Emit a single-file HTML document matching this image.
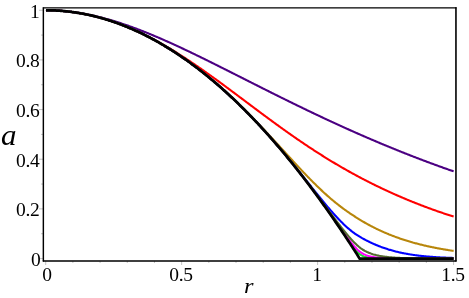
<!DOCTYPE html>
<html><head><meta charset="utf-8"><title>plot</title>
<style>
html,body{margin:0;padding:0;background:#fff;}
body{width:469px;height:298px;position:relative;overflow:hidden;font-family:"Liberation Serif",serif;color:#000;}
div{will-change:transform;}
</style></head><body>
<svg width="469" height="298" viewBox="0 0 469 298" style="position:absolute;left:0;top:0"><rect x="0" y="0" width="469" height="298" fill="#fff"/><path d="M45.70,261 v4 M72.89,261 v2 M100.08,261 v2 M127.27,261 v2 M154.46,261 v2 M181.65,261 v4 M208.84,261 v2 M236.03,261 v2 M263.22,261 v2 M290.41,261 v2 M317.60,261 v4 M344.79,261 v2 M371.98,261 v2 M399.17,261 v2 M426.36,261 v2 M453.55,261 v4 M43,258.55 h-4 M43,233.72 h-2 M43,208.89 h-4 M43,184.06 h-2 M43,159.23 h-4 M43,134.40 h-2 M43,109.57 h-4 M43,84.74 h-2 M43,59.91 h-4 M43,35.08 h-2 M43,10.25 h-4" stroke="#aaa" stroke-width="0.7" fill="none"/><path d="M45.97,10.25 L46.79,10.25 L47.61,10.26 L48.42,10.27 L49.24,10.28 L50.06,10.30 L50.87,10.32 L51.69,10.34 L52.51,10.36 L53.32,10.39 L54.14,10.42 L54.96,10.46 L55.78,10.50 L56.59,10.54 L57.41,10.58 L58.23,10.63 L59.04,10.68 L59.86,10.74 L60.68,10.80 L61.49,10.86 L62.31,10.92 L63.13,10.99 L63.94,11.06 L64.76,11.14 L65.58,11.21 L66.40,11.29 L67.21,11.38 L68.03,11.46 L68.85,11.55 L69.66,11.65 L70.48,11.74 L71.30,11.84 L72.11,11.94 L72.93,12.05 L73.75,12.16 L74.57,12.27 L75.38,12.38 L76.20,12.50 L77.02,12.62 L77.83,12.75 L78.65,12.87 L79.47,13.00 L80.28,13.14 L81.10,13.27 L81.92,13.41 L82.73,13.56 L83.55,13.70 L84.37,13.85 L85.19,14.00 L86.00,14.15 L86.82,14.31 L87.64,14.47 L88.45,14.63 L89.27,14.80 L90.09,14.97 L90.90,15.14 L91.72,15.31 L92.54,15.49 L93.36,15.67 L94.17,15.85 L94.99,16.04 L95.81,16.23 L96.62,16.42 L97.44,16.61 L98.26,16.81 L99.07,17.01 L99.89,17.21 L100.71,17.42 L101.52,17.62 L102.34,17.83 L103.16,18.05 L103.98,18.26 L104.79,18.48 L105.61,18.70 L106.43,18.92 L107.24,19.15 L108.06,19.38 L108.88,19.61 L109.69,19.84 L110.51,20.08 L111.33,20.31 L112.15,20.56 L112.96,20.80 L113.78,21.04 L114.60,21.29 L115.41,21.54 L116.23,21.80 L117.05,22.05 L117.86,22.31 L118.68,22.57 L119.50,22.83 L120.31,23.09 L121.13,23.36 L121.95,23.63 L122.77,23.90 L123.58,24.17 L124.40,24.45 L125.22,24.73 L126.03,25.01 L126.85,25.29 L127.67,25.57 L128.48,25.86 L129.30,26.15 L130.12,26.44 L130.94,26.73 L131.75,27.02 L132.57,27.32 L133.39,27.62 L134.20,27.92 L135.02,28.22 L135.84,28.52 L136.65,28.83 L137.47,29.14 L138.29,29.45 L139.10,29.76 L139.92,30.07 L140.74,30.39 L141.56,30.70 L142.37,31.02 L143.19,31.34 L144.01,31.67 L144.82,31.99 L145.64,32.32 L146.46,32.64 L147.27,32.97 L148.09,33.30 L148.91,33.64 L149.72,33.97 L150.54,34.30 L151.36,34.64 L152.18,34.98 L152.99,35.32 L153.81,35.66 L154.63,36.01 L155.44,36.35 L156.26,36.70 L157.08,37.04 L157.89,37.39 L158.71,37.74 L159.53,38.09 L160.35,38.45 L161.16,38.80 L161.98,39.16 L162.80,39.51 L163.61,39.87 L164.43,40.23 L165.25,40.59 L166.06,40.95 L166.88,41.32 L167.70,41.68 L168.51,42.05 L169.33,42.41 L170.15,42.78 L170.97,43.15 L171.78,43.52 L172.60,43.89 L173.42,44.27 L174.23,44.64 L175.05,45.01 L175.87,45.39 L176.68,45.77 L177.50,46.14 L178.32,46.52 L179.14,46.90 L179.95,47.28 L180.77,47.66 L181.59,48.05 L182.40,48.43 L183.22,48.81 L184.04,49.20 L184.85,49.58 L185.67,49.97 L186.49,50.36 L187.30,50.75 L188.12,51.13 L188.94,51.52 L189.76,51.92 L190.57,52.31 L191.39,52.70 L192.21,53.09 L193.02,53.49 L193.84,53.88 L194.66,54.27 L195.47,54.67 L196.29,55.07 L197.11,55.46 L197.93,55.86 L198.74,56.26 L199.56,56.66 L200.38,57.06 L201.19,57.46 L202.01,57.86 L202.83,58.26 L203.64,58.66 L204.46,59.06 L205.28,59.46 L206.09,59.87 L206.91,60.27 L207.73,60.67 L208.55,61.08 L209.36,61.48 L210.18,61.89 L211.00,62.29 L211.81,62.70 L212.63,63.10 L213.45,63.51 L214.26,63.92 L215.08,64.32 L215.90,64.73 L216.72,65.14 L217.53,65.55 L218.35,65.96 L219.17,66.37 L219.98,66.78 L220.80,67.19 L221.62,67.59 L222.43,68.00 L223.25,68.41 L224.07,68.83 L224.88,69.24 L225.70,69.65 L226.52,70.06 L227.34,70.47 L228.15,70.88 L228.97,71.29 L229.79,71.70 L230.60,72.12 L231.42,72.53 L232.24,72.94 L233.05,73.35 L233.87,73.76 L234.69,74.18 L235.51,74.59 L236.32,75.00 L237.14,75.41 L237.96,75.83 L238.77,76.24 L239.59,76.65 L240.41,77.06 L241.22,77.48 L242.04,77.89 L242.86,78.30 L243.67,78.72 L244.49,79.13 L245.31,79.54 L246.13,79.95 L246.94,80.37 L247.76,80.78 L248.58,81.19 L249.39,81.60 L250.21,82.02 L251.03,82.43 L251.84,82.84 L252.66,83.25 L253.48,83.67 L254.29,84.08 L255.11,84.49 L255.93,84.90 L256.75,85.31 L257.56,85.72 L258.38,86.14 L259.20,86.55 L260.01,86.96 L260.83,87.37 L261.65,87.78 L262.46,88.19 L263.28,88.60 L264.10,89.01 L264.92,89.42 L265.73,89.83 L266.55,90.24 L267.37,90.65 L268.18,91.06 L269.00,91.47 L269.82,91.88 L270.63,92.28 L271.45,92.69 L272.27,93.10 L273.08,93.51 L273.90,93.91 L274.72,94.32 L275.54,94.73 L276.35,95.14 L277.17,95.54 L277.99,95.95 L278.80,96.35 L279.62,96.76 L280.44,97.16 L281.25,97.57 L282.07,97.97 L282.89,98.38 L283.71,98.78 L284.52,99.18 L285.34,99.59 L286.16,99.99 L286.97,100.39 L287.79,100.80 L288.61,101.20 L289.42,101.60 L290.24,102.00 L291.06,102.40 L291.87,102.80 L292.69,103.20 L293.51,103.60 L294.33,104.00 L295.14,104.40 L295.96,104.80 L296.78,105.19 L297.59,105.59 L298.41,105.99 L299.23,106.39 L300.04,106.78 L300.86,107.18 L301.68,107.57 L302.50,107.97 L303.31,108.36 L304.13,108.76 L304.95,109.15 L305.76,109.55 L306.58,109.94 L307.40,110.33 L308.21,110.72 L309.03,111.11 L309.85,111.51 L310.66,111.90 L311.48,112.29 L312.30,112.68 L313.12,113.07 L313.93,113.45 L314.75,113.84 L315.57,114.23 L316.38,114.62 L317.20,115.01 L318.02,115.39 L318.83,115.78 L319.65,116.16 L320.47,116.55 L321.29,116.93 L322.10,117.32 L322.92,117.70 L323.74,118.08 L324.55,118.47 L325.37,118.85 L326.19,119.23 L327.00,119.61 L327.82,119.99 L328.64,120.37 L329.45,120.75 L330.27,121.13 L331.09,121.51 L331.91,121.88 L332.72,122.26 L333.54,122.64 L334.36,123.01 L335.17,123.39 L335.99,123.77 L336.81,124.14 L337.62,124.51 L338.44,124.89 L339.26,125.26 L340.08,125.63 L340.89,126.00 L341.71,126.38 L342.53,126.75 L343.34,127.12 L344.16,127.49 L344.98,127.85 L345.79,128.22 L346.61,128.59 L347.43,128.96 L348.24,129.32 L349.06,129.69 L349.88,130.06 L350.70,130.42 L351.51,130.79 L352.33,131.15 L353.15,131.51 L353.96,131.88 L354.78,132.24 L355.60,132.60 L356.41,132.96 L357.23,133.32 L358.05,133.68 L358.86,134.04 L359.68,134.40 L360.50,134.76 L361.32,135.11 L362.13,135.47 L362.95,135.83 L363.77,136.18 L364.58,136.54 L365.40,136.89 L366.22,137.24 L367.03,137.60 L367.85,137.95 L368.67,138.30 L369.49,138.65 L370.30,139.00 L371.12,139.35 L371.94,139.70 L372.75,140.05 L373.57,140.40 L374.39,140.75 L375.20,141.09 L376.02,141.44 L376.84,141.79 L377.65,142.13 L378.47,142.48 L379.29,142.82 L380.11,143.16 L380.92,143.51 L381.74,143.85 L382.56,144.19 L383.37,144.53 L384.19,144.87 L385.01,145.21 L385.82,145.55 L386.64,145.89 L387.46,146.22 L388.28,146.56 L389.09,146.90 L389.91,147.23 L390.73,147.57 L391.54,147.90 L392.36,148.23 L393.18,148.57 L393.99,148.90 L394.81,149.23 L395.63,149.56 L396.44,149.89 L397.26,150.22 L398.08,150.55 L398.90,150.88 L399.71,151.21 L400.53,151.54 L401.35,151.86 L402.16,152.19 L402.98,152.51 L403.80,152.84 L404.61,153.16 L405.43,153.48 L406.25,153.81 L407.07,154.13 L407.88,154.45 L408.70,154.77 L409.52,155.09 L410.33,155.41 L411.15,155.73 L411.97,156.05 L412.78,156.36 L413.60,156.68 L414.42,157.00 L415.23,157.31 L416.05,157.63 L416.87,157.94 L417.69,158.25 L418.50,158.57 L419.32,158.88 L420.14,159.19 L420.95,159.50 L421.77,159.81 L422.59,160.12 L423.40,160.43 L424.22,160.74 L425.04,161.05 L425.86,161.35 L426.67,161.66 L427.49,161.96 L428.31,162.27 L429.12,162.57 L429.94,162.88 L430.76,163.18 L431.57,163.48 L432.39,163.78 L433.21,164.08 L434.02,164.38 L434.84,164.68 L435.66,164.98 L436.48,165.28 L437.29,165.58 L438.11,165.87 L438.93,166.17 L439.74,166.46 L440.56,166.76 L441.38,167.05 L442.19,167.35 L443.01,167.64 L443.83,167.93 L444.65,168.22 L445.46,168.51 L446.28,168.80 L447.10,169.09 L447.91,169.38 L448.73,169.67 L449.55,169.95 L450.36,170.24 L451.18,170.53 L452.00,170.81 L452.81,171.10 L453.63,171.38" stroke="#4b0082" stroke-width="2.1" fill="none" stroke-linejoin="miter" stroke-linecap="butt"/><path d="M45.97,10.25 L46.79,10.25 L47.61,10.26 L48.42,10.27 L49.24,10.28 L50.06,10.30 L50.87,10.32 L51.69,10.34 L52.51,10.37 L53.32,10.40 L54.14,10.43 L54.96,10.47 L55.78,10.51 L56.59,10.55 L57.41,10.60 L58.23,10.65 L59.04,10.70 L59.86,10.76 L60.68,10.82 L61.49,10.88 L62.31,10.95 L63.13,11.02 L63.94,11.09 L64.76,11.17 L65.58,11.25 L66.40,11.33 L67.21,11.42 L68.03,11.51 L68.85,11.60 L69.66,11.70 L70.48,11.80 L71.30,11.90 L72.11,12.01 L72.93,12.12 L73.75,12.23 L74.57,12.35 L75.38,12.47 L76.20,12.59 L77.02,12.72 L77.83,12.85 L78.65,12.99 L79.47,13.12 L80.28,13.27 L81.10,13.41 L81.92,13.56 L82.73,13.71 L83.55,13.86 L84.37,14.02 L85.19,14.18 L86.00,14.35 L86.82,14.51 L87.64,14.68 L88.45,14.86 L89.27,15.04 L90.09,15.22 L90.90,15.40 L91.72,15.59 L92.54,15.78 L93.36,15.98 L94.17,16.18 L94.99,16.38 L95.81,16.58 L96.62,16.79 L97.44,17.00 L98.26,17.22 L99.07,17.44 L99.89,17.66 L100.71,17.88 L101.52,18.11 L102.34,18.34 L103.16,18.58 L103.98,18.82 L104.79,19.06 L105.61,19.30 L106.43,19.55 L107.24,19.80 L108.06,20.06 L108.88,20.32 L109.69,20.58 L110.51,20.84 L111.33,21.11 L112.15,21.38 L112.96,21.66 L113.78,21.94 L114.60,22.22 L115.41,22.51 L116.23,22.79 L117.05,23.09 L117.86,23.38 L118.68,23.68 L119.50,23.98 L120.31,24.29 L121.13,24.59 L121.95,24.90 L122.77,25.22 L123.58,25.54 L124.40,25.86 L125.22,26.18 L126.03,26.51 L126.85,26.84 L127.67,27.18 L128.48,27.51 L129.30,27.85 L130.12,28.20 L130.94,28.55 L131.75,28.90 L132.57,29.25 L133.39,29.61 L134.20,29.97 L135.02,30.33 L135.84,30.69 L136.65,31.06 L137.47,31.44 L138.29,31.81 L139.10,32.19 L139.92,32.57 L140.74,32.96 L141.56,33.34 L142.37,33.74 L143.19,34.13 L144.01,34.53 L144.82,34.93 L145.64,35.33 L146.46,35.74 L147.27,36.15 L148.09,36.56 L148.91,36.97 L149.72,37.39 L150.54,37.81 L151.36,38.24 L152.18,38.66 L152.99,39.09 L153.81,39.53 L154.63,39.96 L155.44,40.40 L156.26,40.84 L157.08,41.29 L157.89,41.73 L158.71,42.18 L159.53,42.64 L160.35,43.09 L161.16,43.55 L161.98,44.01 L162.80,44.47 L163.61,44.94 L164.43,45.41 L165.25,45.88 L166.06,46.36 L166.88,46.83 L167.70,47.31 L168.51,47.80 L169.33,48.28 L170.15,48.77 L170.97,49.26 L171.78,49.75 L172.60,50.24 L173.42,50.74 L174.23,51.24 L175.05,51.74 L175.87,52.25 L176.68,52.76 L177.50,53.27 L178.32,53.78 L179.14,54.29 L179.95,54.81 L180.77,55.33 L181.59,55.85 L182.40,56.37 L183.22,56.90 L184.04,57.42 L184.85,57.95 L185.67,58.49 L186.49,59.02 L187.30,59.56 L188.12,60.10 L188.94,60.64 L189.76,61.18 L190.57,61.72 L191.39,62.27 L192.21,62.82 L193.02,63.37 L193.84,63.92 L194.66,64.47 L195.47,65.03 L196.29,65.59 L197.11,66.14 L197.93,66.71 L198.74,67.27 L199.56,67.83 L200.38,68.40 L201.19,68.97 L202.01,69.54 L202.83,70.11 L203.64,70.68 L204.46,71.25 L205.28,71.83 L206.09,72.41 L206.91,72.99 L207.73,73.57 L208.55,74.15 L209.36,74.73 L210.18,75.31 L211.00,75.90 L211.81,76.48 L212.63,77.07 L213.45,77.66 L214.26,78.25 L215.08,78.84 L215.90,79.44 L216.72,80.03 L217.53,80.62 L218.35,81.22 L219.17,81.82 L219.98,82.41 L220.80,83.01 L221.62,83.61 L222.43,84.21 L223.25,84.81 L224.07,85.41 L224.88,86.02 L225.70,86.62 L226.52,87.23 L227.34,87.83 L228.15,88.44 L228.97,89.04 L229.79,89.65 L230.60,90.26 L231.42,90.86 L232.24,91.47 L233.05,92.08 L233.87,92.69 L234.69,93.30 L235.51,93.91 L236.32,94.52 L237.14,95.13 L237.96,95.74 L238.77,96.36 L239.59,96.97 L240.41,97.58 L241.22,98.19 L242.04,98.80 L242.86,99.42 L243.67,100.03 L244.49,100.64 L245.31,101.25 L246.13,101.87 L246.94,102.48 L247.76,103.09 L248.58,103.70 L249.39,104.32 L250.21,104.93 L251.03,105.54 L251.84,106.15 L252.66,106.76 L253.48,107.38 L254.29,107.99 L255.11,108.60 L255.93,109.21 L256.75,109.82 L257.56,110.43 L258.38,111.04 L259.20,111.65 L260.01,112.25 L260.83,112.86 L261.65,113.47 L262.46,114.08 L263.28,114.68 L264.10,115.29 L264.92,115.89 L265.73,116.50 L266.55,117.10 L267.37,117.71 L268.18,118.31 L269.00,118.91 L269.82,119.51 L270.63,120.11 L271.45,120.71 L272.27,121.31 L273.08,121.91 L273.90,122.50 L274.72,123.10 L275.54,123.69 L276.35,124.29 L277.17,124.88 L277.99,125.47 L278.80,126.06 L279.62,126.65 L280.44,127.24 L281.25,127.83 L282.07,128.42 L282.89,129.00 L283.71,129.59 L284.52,130.17 L285.34,130.75 L286.16,131.33 L286.97,131.91 L287.79,132.49 L288.61,133.07 L289.42,133.64 L290.24,134.22 L291.06,134.79 L291.87,135.37 L292.69,135.94 L293.51,136.51 L294.33,137.07 L295.14,137.64 L295.96,138.21 L296.78,138.77 L297.59,139.33 L298.41,139.89 L299.23,140.45 L300.04,141.01 L300.86,141.57 L301.68,142.12 L302.50,142.68 L303.31,143.23 L304.13,143.78 L304.95,144.33 L305.76,144.88 L306.58,145.42 L307.40,145.97 L308.21,146.51 L309.03,147.05 L309.85,147.59 L310.66,148.13 L311.48,148.67 L312.30,149.20 L313.12,149.74 L313.93,150.27 L314.75,150.80 L315.57,151.33 L316.38,151.85 L317.20,152.38 L318.02,152.90 L318.83,153.42 L319.65,153.94 L320.47,154.46 L321.29,154.98 L322.10,155.49 L322.92,156.01 L323.74,156.52 L324.55,157.03 L325.37,157.54 L326.19,158.04 L327.00,158.55 L327.82,159.05 L328.64,159.55 L329.45,160.05 L330.27,160.55 L331.09,161.04 L331.91,161.54 L332.72,162.03 L333.54,162.52 L334.36,163.01 L335.17,163.50 L335.99,163.98 L336.81,164.46 L337.62,164.95 L338.44,165.43 L339.26,165.90 L340.08,166.38 L340.89,166.85 L341.71,167.33 L342.53,167.80 L343.34,168.27 L344.16,168.73 L344.98,169.20 L345.79,169.66 L346.61,170.13 L347.43,170.59 L348.24,171.04 L349.06,171.50 L349.88,171.96 L350.70,172.41 L351.51,172.86 L352.33,173.31 L353.15,173.76 L353.96,174.20 L354.78,174.65 L355.60,175.09 L356.41,175.53 L357.23,175.97 L358.05,176.41 L358.86,176.84 L359.68,177.28 L360.50,177.71 L361.32,178.14 L362.13,178.57 L362.95,179.00 L363.77,179.42 L364.58,179.84 L365.40,180.27 L366.22,180.69 L367.03,181.10 L367.85,181.52 L368.67,181.94 L369.49,182.35 L370.30,182.76 L371.12,183.17 L371.94,183.58 L372.75,183.99 L373.57,184.39 L374.39,184.79 L375.20,185.19 L376.02,185.59 L376.84,185.99 L377.65,186.39 L378.47,186.78 L379.29,187.18 L380.11,187.57 L380.92,187.96 L381.74,188.35 L382.56,188.73 L383.37,189.12 L384.19,189.50 L385.01,189.88 L385.82,190.26 L386.64,190.64 L387.46,191.02 L388.28,191.40 L389.09,191.77 L389.91,192.14 L390.73,192.51 L391.54,192.88 L392.36,193.25 L393.18,193.62 L393.99,193.98 L394.81,194.34 L395.63,194.71 L396.44,195.07 L397.26,195.42 L398.08,195.78 L398.90,196.14 L399.71,196.49 L400.53,196.84 L401.35,197.19 L402.16,197.54 L402.98,197.89 L403.80,198.24 L404.61,198.58 L405.43,198.92 L406.25,199.27 L407.07,199.61 L407.88,199.95 L408.70,200.28 L409.52,200.62 L410.33,200.95 L411.15,201.29 L411.97,201.62 L412.78,201.95 L413.60,202.28 L414.42,202.60 L415.23,202.93 L416.05,203.25 L416.87,203.57 L417.69,203.90 L418.50,204.22 L419.32,204.53 L420.14,204.85 L420.95,205.17 L421.77,205.48 L422.59,205.79 L423.40,206.10 L424.22,206.41 L425.04,206.72 L425.86,207.03 L426.67,207.33 L427.49,207.63 L428.31,207.94 L429.12,208.24 L429.94,208.54 L430.76,208.83 L431.57,209.13 L432.39,209.42 L433.21,209.72 L434.02,210.01 L434.84,210.30 L435.66,210.59 L436.48,210.87 L437.29,211.16 L438.11,211.44 L438.93,211.73 L439.74,212.01 L440.56,212.29 L441.38,212.56 L442.19,212.84 L443.01,213.12 L443.83,213.39 L444.65,213.66 L445.46,213.93 L446.28,214.20 L447.10,214.47 L447.91,214.73 L448.73,215.00 L449.55,215.26 L450.36,215.52 L451.18,215.78 L452.00,216.04 L452.81,216.29 L453.63,216.55" stroke="#ff0000" stroke-width="2.1" fill="none" stroke-linejoin="miter" stroke-linecap="butt"/><path d="M45.97,10.25 L46.79,10.25 L47.61,10.26 L48.42,10.27 L49.24,10.28 L50.06,10.30 L50.87,10.32 L51.69,10.34 L52.51,10.37 L53.32,10.40 L54.14,10.43 L54.96,10.47 L55.78,10.51 L56.59,10.55 L57.41,10.60 L58.23,10.65 L59.04,10.70 L59.86,10.76 L60.68,10.82 L61.49,10.88 L62.31,10.95 L63.13,11.02 L63.94,11.09 L64.76,11.17 L65.58,11.25 L66.40,11.33 L67.21,11.42 L68.03,11.51 L68.85,11.60 L69.66,11.70 L70.48,11.80 L71.30,11.90 L72.11,12.01 L72.93,12.12 L73.75,12.23 L74.57,12.35 L75.38,12.47 L76.20,12.59 L77.02,12.72 L77.83,12.85 L78.65,12.98 L79.47,13.12 L80.28,13.26 L81.10,13.41 L81.92,13.55 L82.73,13.70 L83.55,13.86 L84.37,14.02 L85.19,14.18 L86.00,14.34 L86.82,14.51 L87.64,14.68 L88.45,14.85 L89.27,15.03 L90.09,15.21 L90.90,15.40 L91.72,15.59 L92.54,15.78 L93.36,15.97 L94.17,16.17 L94.99,16.37 L95.81,16.57 L96.62,16.78 L97.44,16.99 L98.26,17.21 L99.07,17.43 L99.89,17.65 L100.71,17.87 L101.52,18.10 L102.34,18.33 L103.16,18.57 L103.98,18.80 L104.79,19.05 L105.61,19.29 L106.43,19.54 L107.24,19.79 L108.06,20.05 L108.88,20.30 L109.69,20.57 L110.51,20.83 L111.33,21.10 L112.15,21.37 L112.96,21.65 L113.78,21.92 L114.60,22.21 L115.41,22.49 L116.23,22.78 L117.05,23.07 L117.86,23.37 L118.68,23.67 L119.50,23.97 L120.31,24.27 L121.13,24.58 L121.95,24.89 L122.77,25.21 L123.58,25.53 L124.40,25.85 L125.22,26.18 L126.03,26.51 L126.85,26.84 L127.67,27.17 L128.48,27.51 L129.30,27.86 L130.12,28.20 L130.94,28.55 L131.75,28.90 L132.57,29.26 L133.39,29.62 L134.20,29.98 L135.02,30.35 L135.84,30.72 L136.65,31.09 L137.47,31.46 L138.29,31.84 L139.10,32.23 L139.92,32.61 L140.74,33.00 L141.56,33.39 L142.37,33.79 L143.19,34.19 L144.01,34.59 L144.82,35.00 L145.64,35.41 L146.46,35.82 L147.27,36.24 L148.09,36.66 L148.91,37.08 L149.72,37.51 L150.54,37.94 L151.36,38.37 L152.18,38.81 L152.99,39.25 L153.81,39.69 L154.63,40.14 L155.44,40.59 L156.26,41.04 L157.08,41.50 L157.89,41.96 L158.71,42.42 L159.53,42.89 L160.35,43.36 L161.16,43.83 L161.98,44.31 L162.80,44.79 L163.61,45.27 L164.43,45.76 L165.25,46.25 L166.06,46.74 L166.88,47.24 L167.70,47.74 L168.51,48.24 L169.33,48.75 L170.15,49.26 L170.97,49.78 L171.78,50.29 L172.60,50.81 L173.42,51.34 L174.23,51.86 L175.05,52.40 L175.87,52.93 L176.68,53.47 L177.50,54.01 L178.32,54.55 L179.14,55.10 L179.95,55.65 L180.77,56.20 L181.59,56.76 L182.40,57.32 L183.22,57.89 L184.04,58.45 L184.85,59.02 L185.67,59.60 L186.49,60.18 L187.30,60.76 L188.12,61.34 L188.94,61.93 L189.76,62.52 L190.57,63.12 L191.39,63.71 L192.21,64.31 L193.02,64.92 L193.84,65.53 L194.66,66.14 L195.47,66.75 L196.29,67.37 L197.11,67.99 L197.93,68.62 L198.74,69.24 L199.56,69.87 L200.38,70.51 L201.19,71.15 L202.01,71.79 L202.83,72.43 L203.64,73.08 L204.46,73.73 L205.28,74.39 L206.09,75.04 L206.91,75.70 L207.73,76.37 L208.55,77.04 L209.36,77.71 L210.18,78.38 L211.00,79.06 L211.81,79.74 L212.63,80.42 L213.45,81.11 L214.26,81.80 L215.08,82.50 L215.90,83.19 L216.72,83.90 L217.53,84.60 L218.35,85.31 L219.17,86.02 L219.98,86.73 L220.80,87.45 L221.62,88.17 L222.43,88.89 L223.25,89.62 L224.07,90.35 L224.88,91.08 L225.70,91.82 L226.52,92.56 L227.34,93.30 L228.15,94.04 L228.97,94.79 L229.79,95.55 L230.60,96.30 L231.42,97.06 L232.24,97.82 L233.05,98.59 L233.87,99.35 L234.69,100.12 L235.51,100.90 L236.32,101.68 L237.14,102.46 L237.96,103.24 L238.77,104.02 L239.59,104.81 L240.41,105.60 L241.22,106.40 L242.04,107.20 L242.86,108.00 L243.67,108.80 L244.49,109.61 L245.31,110.42 L246.13,111.23 L246.94,112.04 L247.76,112.86 L248.58,113.68 L249.39,114.51 L250.21,115.33 L251.03,116.16 L251.84,116.99 L252.66,117.82 L253.48,118.66 L254.29,119.50 L255.11,120.34 L255.93,121.18 L256.75,122.03 L257.56,122.88 L258.38,123.73 L259.20,124.58 L260.01,125.43 L260.83,126.29 L261.65,127.15 L262.46,128.01 L263.28,128.88 L264.10,129.74 L264.92,130.61 L265.73,131.48 L266.55,132.35 L267.37,133.22 L268.18,134.10 L269.00,134.97 L269.82,135.85 L270.63,136.73 L271.45,137.61 L272.27,138.49 L273.08,139.37 L273.90,140.26 L274.72,141.14 L275.54,142.03 L276.35,142.92 L277.17,143.80 L277.99,144.69 L278.80,145.58 L279.62,146.47 L280.44,147.36 L281.25,148.25 L282.07,149.15 L282.89,150.04 L283.71,150.93 L284.52,151.82 L285.34,152.71 L286.16,153.61 L286.97,154.50 L287.79,155.39 L288.61,156.28 L289.42,157.17 L290.24,158.06 L291.06,158.95 L291.87,159.83 L292.69,160.72 L293.51,161.61 L294.33,162.49 L295.14,163.37 L295.96,164.26 L296.78,165.14 L297.59,166.01 L298.41,166.89 L299.23,167.76 L300.04,168.64 L300.86,169.50 L301.68,170.37 L302.50,171.24 L303.31,172.10 L304.13,172.96 L304.95,173.81 L305.76,174.67 L306.58,175.52 L307.40,176.36 L308.21,177.21 L309.03,178.05 L309.85,178.88 L310.66,179.72 L311.48,180.54 L312.30,181.37 L313.12,182.19 L313.93,183.00 L314.75,183.81 L315.57,184.62 L316.38,185.42 L317.20,186.22 L318.02,187.01 L318.83,187.80 L319.65,188.58 L320.47,189.36 L321.29,190.13 L322.10,190.89 L322.92,191.65 L323.74,192.41 L324.55,193.16 L325.37,193.90 L326.19,194.63 L327.00,195.37 L327.82,196.09 L328.64,196.81 L329.45,197.52 L330.27,198.23 L331.09,198.93 L331.91,199.62 L332.72,200.31 L333.54,200.99 L334.36,201.66 L335.17,202.33 L335.99,202.99 L336.81,203.65 L337.62,204.29 L338.44,204.94 L339.26,205.57 L340.08,206.20 L340.89,206.82 L341.71,207.44 L342.53,208.05 L343.34,208.65 L344.16,209.25 L344.98,209.84 L345.79,210.42 L346.61,211.00 L347.43,211.58 L348.24,212.14 L349.06,212.71 L349.88,213.26 L350.70,213.81 L351.51,214.36 L352.33,214.90 L353.15,215.44 L353.96,215.97 L354.78,216.50 L355.60,217.02 L356.41,217.54 L357.23,218.05 L358.05,218.56 L358.86,219.07 L359.68,219.58 L360.50,220.08 L361.32,220.57 L362.13,221.06 L362.95,221.55 L363.77,222.03 L364.58,222.50 L365.40,222.97 L366.22,223.43 L367.03,223.89 L367.85,224.34 L368.67,224.79 L369.49,225.23 L370.30,225.66 L371.12,226.10 L371.94,226.52 L372.75,226.94 L373.57,227.36 L374.39,227.77 L375.20,228.18 L376.02,228.58 L376.84,228.98 L377.65,229.37 L378.47,229.76 L379.29,230.15 L380.11,230.53 L380.92,230.90 L381.74,231.27 L382.56,231.64 L383.37,232.00 L384.19,232.36 L385.01,232.71 L385.82,233.06 L386.64,233.40 L387.46,233.75 L388.28,234.08 L389.09,234.42 L389.91,234.74 L390.73,235.07 L391.54,235.39 L392.36,235.71 L393.18,236.02 L393.99,236.33 L394.81,236.63 L395.63,236.94 L396.44,237.23 L397.26,237.53 L398.08,237.82 L398.90,238.11 L399.71,238.39 L400.53,238.67 L401.35,238.95 L402.16,239.22 L402.98,239.49 L403.80,239.76 L404.61,240.02 L405.43,240.28 L406.25,240.54 L407.07,240.79 L407.88,241.04 L408.70,241.29 L409.52,241.53 L410.33,241.77 L411.15,242.01 L411.97,242.24 L412.78,242.48 L413.60,242.70 L414.42,242.93 L415.23,243.15 L416.05,243.37 L416.87,243.59 L417.69,243.81 L418.50,244.02 L419.32,244.23 L420.14,244.43 L420.95,244.64 L421.77,244.84 L422.59,245.04 L423.40,245.23 L424.22,245.43 L425.04,245.62 L425.86,245.80 L426.67,245.99 L427.49,246.17 L428.31,246.35 L429.12,246.53 L429.94,246.71 L430.76,246.88 L431.57,247.05 L432.39,247.22 L433.21,247.39 L434.02,247.56 L434.84,247.72 L435.66,247.88 L436.48,248.04 L437.29,248.19 L438.11,248.35 L438.93,248.50 L439.74,248.65 L440.56,248.80 L441.38,248.94 L442.19,249.09 L443.01,249.23 L443.83,249.37 L444.65,249.51 L445.46,249.64 L446.28,249.78 L447.10,249.91 L447.91,250.04 L448.73,250.17 L449.55,250.30 L450.36,250.42 L451.18,250.55 L452.00,250.67 L452.81,250.79 L453.63,250.91" stroke="#b8860b" stroke-width="2.1" fill="none" stroke-linejoin="miter" stroke-linecap="butt"/><path d="M45.97,10.25 L46.79,10.25 L47.61,10.26 L48.42,10.27 L49.24,10.28 L50.06,10.30 L50.87,10.32 L51.69,10.34 L52.51,10.37 L53.32,10.40 L54.14,10.43 L54.96,10.47 L55.78,10.51 L56.59,10.55 L57.41,10.60 L58.23,10.65 L59.04,10.70 L59.86,10.76 L60.68,10.82 L61.49,10.88 L62.31,10.95 L63.13,11.02 L63.94,11.09 L64.76,11.17 L65.58,11.25 L66.40,11.33 L67.21,11.42 L68.03,11.51 L68.85,11.60 L69.66,11.70 L70.48,11.80 L71.30,11.90 L72.11,12.01 L72.93,12.12 L73.75,12.23 L74.57,12.35 L75.38,12.47 L76.20,12.59 L77.02,12.72 L77.83,12.85 L78.65,12.98 L79.47,13.12 L80.28,13.26 L81.10,13.41 L81.92,13.55 L82.73,13.70 L83.55,13.86 L84.37,14.02 L85.19,14.18 L86.00,14.34 L86.82,14.51 L87.64,14.68 L88.45,14.85 L89.27,15.03 L90.09,15.21 L90.90,15.40 L91.72,15.59 L92.54,15.78 L93.36,15.97 L94.17,16.17 L94.99,16.37 L95.81,16.57 L96.62,16.78 L97.44,16.99 L98.26,17.21 L99.07,17.43 L99.89,17.65 L100.71,17.87 L101.52,18.10 L102.34,18.33 L103.16,18.57 L103.98,18.80 L104.79,19.05 L105.61,19.29 L106.43,19.54 L107.24,19.79 L108.06,20.05 L108.88,20.30 L109.69,20.57 L110.51,20.83 L111.33,21.10 L112.15,21.37 L112.96,21.65 L113.78,21.92 L114.60,22.21 L115.41,22.49 L116.23,22.78 L117.05,23.07 L117.86,23.37 L118.68,23.67 L119.50,23.97 L120.31,24.27 L121.13,24.58 L121.95,24.89 L122.77,25.21 L123.58,25.53 L124.40,25.85 L125.22,26.18 L126.03,26.51 L126.85,26.84 L127.67,27.17 L128.48,27.51 L129.30,27.86 L130.12,28.20 L130.94,28.55 L131.75,28.90 L132.57,29.26 L133.39,29.62 L134.20,29.98 L135.02,30.35 L135.84,30.72 L136.65,31.09 L137.47,31.46 L138.29,31.84 L139.10,32.23 L139.92,32.61 L140.74,33.00 L141.56,33.39 L142.37,33.79 L143.19,34.19 L144.01,34.59 L144.82,35.00 L145.64,35.41 L146.46,35.82 L147.27,36.24 L148.09,36.66 L148.91,37.08 L149.72,37.51 L150.54,37.94 L151.36,38.37 L152.18,38.81 L152.99,39.25 L153.81,39.69 L154.63,40.14 L155.44,40.59 L156.26,41.04 L157.08,41.50 L157.89,41.96 L158.71,42.42 L159.53,42.89 L160.35,43.36 L161.16,43.83 L161.98,44.31 L162.80,44.79 L163.61,45.27 L164.43,45.76 L165.25,46.25 L166.06,46.74 L166.88,47.24 L167.70,47.74 L168.51,48.24 L169.33,48.75 L170.15,49.26 L170.97,49.78 L171.78,50.29 L172.60,50.81 L173.42,51.34 L174.23,51.87 L175.05,52.40 L175.87,52.93 L176.68,53.47 L177.50,54.01 L178.32,54.55 L179.14,55.10 L179.95,55.65 L180.77,56.20 L181.59,56.76 L182.40,57.32 L183.22,57.89 L184.04,58.46 L184.85,59.03 L185.67,59.60 L186.49,60.18 L187.30,60.76 L188.12,61.34 L188.94,61.93 L189.76,62.52 L190.57,63.12 L191.39,63.72 L192.21,64.32 L193.02,64.92 L193.84,65.53 L194.66,66.14 L195.47,66.76 L196.29,67.37 L197.11,68.00 L197.93,68.62 L198.74,69.25 L199.56,69.88 L200.38,70.52 L201.19,71.15 L202.01,71.80 L202.83,72.44 L203.64,73.09 L204.46,73.74 L205.28,74.40 L206.09,75.05 L206.91,75.72 L207.73,76.38 L208.55,77.05 L209.36,77.72 L210.18,78.40 L211.00,79.08 L211.81,79.76 L212.63,80.44 L213.45,81.13 L214.26,81.82 L215.08,82.52 L215.90,83.22 L216.72,83.92 L217.53,84.63 L218.35,85.33 L219.17,86.05 L219.98,86.76 L220.80,87.48 L221.62,88.20 L222.43,88.93 L223.25,89.66 L224.07,90.39 L224.88,91.13 L225.70,91.87 L226.52,92.61 L227.34,93.35 L228.15,94.10 L228.97,94.86 L229.79,95.61 L230.60,96.37 L231.42,97.13 L232.24,97.90 L233.05,98.67 L233.87,99.44 L234.69,100.22 L235.51,101.00 L236.32,101.78 L237.14,102.57 L237.96,103.36 L238.77,104.15 L239.59,104.94 L240.41,105.74 L241.22,106.55 L242.04,107.35 L242.86,108.16 L243.67,108.98 L244.49,109.79 L245.31,110.61 L246.13,111.44 L246.94,112.26 L247.76,113.09 L248.58,113.92 L249.39,114.76 L250.21,115.60 L251.03,116.44 L251.84,117.29 L252.66,118.14 L253.48,118.99 L254.29,119.85 L255.11,120.71 L255.93,121.57 L256.75,122.44 L257.56,123.31 L258.38,124.18 L259.20,125.06 L260.01,125.94 L260.83,126.82 L261.65,127.71 L262.46,128.60 L263.28,129.49 L264.10,130.38 L264.92,131.28 L265.73,132.19 L266.55,133.09 L267.37,134.00 L268.18,134.91 L269.00,135.83 L269.82,136.75 L270.63,137.67 L271.45,138.59 L272.27,139.52 L273.08,140.45 L273.90,141.39 L274.72,142.32 L275.54,143.26 L276.35,144.21 L277.17,145.16 L277.99,146.10 L278.80,147.06 L279.62,148.01 L280.44,148.97 L281.25,149.93 L282.07,150.90 L282.89,151.86 L283.71,152.83 L284.52,153.81 L285.34,154.78 L286.16,155.76 L286.97,156.74 L287.79,157.73 L288.61,158.71 L289.42,159.70 L290.24,160.69 L291.06,161.68 L291.87,162.68 L292.69,163.68 L293.51,164.68 L294.33,165.68 L295.14,166.68 L295.96,167.69 L296.78,168.70 L297.59,169.71 L298.41,170.72 L299.23,171.73 L300.04,172.75 L300.86,173.77 L301.68,174.78 L302.50,175.80 L303.31,176.82 L304.13,177.84 L304.95,178.86 L305.76,179.89 L306.58,180.91 L307.40,181.93 L308.21,182.95 L309.03,183.98 L309.85,185.00 L310.66,186.02 L311.48,187.05 L312.30,188.07 L313.12,189.09 L313.93,190.11 L314.75,191.13 L315.57,192.14 L316.38,193.16 L317.20,194.17 L318.02,195.18 L318.83,196.19 L319.65,197.20 L320.47,198.20 L321.29,199.20 L322.10,200.20 L322.92,201.19 L323.74,202.18 L324.55,203.17 L325.37,204.15 L326.19,205.12 L327.00,206.09 L327.82,207.06 L328.64,208.02 L329.45,208.97 L330.27,209.92 L331.09,210.86 L331.91,211.79 L332.72,212.71 L333.54,213.63 L334.36,214.54 L335.17,215.44 L335.99,216.33 L336.81,217.21 L337.62,218.08 L338.44,218.95 L339.26,219.80 L340.08,220.64 L340.89,221.47 L341.71,222.29 L342.53,223.09 L343.34,223.89 L344.16,224.67 L344.98,225.44 L345.79,226.19 L346.61,226.93 L347.43,227.66 L348.24,228.37 L349.06,229.07 L349.88,229.76 L350.70,230.43 L351.51,231.08 L352.33,231.72 L353.15,232.34 L353.96,232.94 L354.78,233.53 L355.60,234.11 L356.41,234.66 L357.23,235.20 L358.05,235.72 L358.86,236.22 L359.68,236.71 L360.50,237.19 L361.32,237.65 L362.13,238.12 L362.95,238.57 L363.77,239.02 L364.58,239.46 L365.40,239.89 L366.22,240.32 L367.03,240.74 L367.85,241.15 L368.67,241.56 L369.49,241.96 L370.30,242.35 L371.12,242.74 L371.94,243.12 L372.75,243.49 L373.57,243.86 L374.39,244.22 L375.20,244.57 L376.02,244.92 L376.84,245.26 L377.65,245.59 L378.47,245.92 L379.29,246.24 L380.11,246.55 L380.92,246.86 L381.74,247.17 L382.56,247.46 L383.37,247.75 L384.19,248.04 L385.01,248.32 L385.82,248.59 L386.64,248.86 L387.46,249.12 L388.28,249.38 L389.09,249.63 L389.91,249.87 L390.73,250.11 L391.54,250.35 L392.36,250.58 L393.18,250.80 L393.99,251.02 L394.81,251.23 L395.63,251.44 L396.44,251.65 L397.26,251.85 L398.08,252.04 L398.90,252.23 L399.71,252.42 L400.53,252.60 L401.35,252.77 L402.16,252.95 L402.98,253.12 L403.80,253.28 L404.61,253.44 L405.43,253.59 L406.25,253.75 L407.07,253.89 L407.88,254.04 L408.70,254.18 L409.52,254.32 L410.33,254.45 L411.15,254.58 L411.97,254.70 L412.78,254.83 L413.60,254.95 L414.42,255.06 L415.23,255.18 L416.05,255.29 L416.87,255.39 L417.69,255.50 L418.50,255.60 L419.32,255.69 L420.14,255.79 L420.95,255.88 L421.77,255.97 L422.59,256.06 L423.40,256.14 L424.22,256.23 L425.04,256.30 L425.86,256.38 L426.67,256.46 L427.49,256.53 L428.31,256.60 L429.12,256.67 L429.94,256.73 L430.76,256.80 L431.57,256.86 L432.39,256.92 L433.21,256.98 L434.02,257.04 L434.84,257.09 L435.66,257.14 L436.48,257.20 L437.29,257.24 L438.11,257.29 L438.93,257.34 L439.74,257.38 L440.56,257.43 L441.38,257.47 L442.19,257.51 L443.01,257.55 L443.83,257.59 L444.65,257.62 L445.46,257.66 L446.28,257.69 L447.10,257.73 L447.91,257.76 L448.73,257.79 L449.55,257.82 L450.36,257.85 L451.18,257.87 L452.00,257.90 L452.81,257.93 L453.63,257.95" stroke="#0000ff" stroke-width="2.1" fill="none" stroke-linejoin="miter" stroke-linecap="butt"/><path d="M45.97,10.25 L46.79,10.25 L47.61,10.26 L48.42,10.27 L49.24,10.28 L50.06,10.30 L50.87,10.32 L51.69,10.34 L52.51,10.37 L53.32,10.40 L54.14,10.43 L54.96,10.47 L55.78,10.51 L56.59,10.55 L57.41,10.60 L58.23,10.65 L59.04,10.70 L59.86,10.76 L60.68,10.82 L61.49,10.88 L62.31,10.95 L63.13,11.02 L63.94,11.09 L64.76,11.17 L65.58,11.25 L66.40,11.33 L67.21,11.42 L68.03,11.51 L68.85,11.60 L69.66,11.70 L70.48,11.80 L71.30,11.90 L72.11,12.01 L72.93,12.12 L73.75,12.23 L74.57,12.35 L75.38,12.47 L76.20,12.59 L77.02,12.72 L77.83,12.85 L78.65,12.98 L79.47,13.12 L80.28,13.26 L81.10,13.41 L81.92,13.55 L82.73,13.70 L83.55,13.86 L84.37,14.02 L85.19,14.18 L86.00,14.34 L86.82,14.51 L87.64,14.68 L88.45,14.85 L89.27,15.03 L90.09,15.21 L90.90,15.40 L91.72,15.59 L92.54,15.78 L93.36,15.97 L94.17,16.17 L94.99,16.37 L95.81,16.57 L96.62,16.78 L97.44,16.99 L98.26,17.21 L99.07,17.43 L99.89,17.65 L100.71,17.87 L101.52,18.10 L102.34,18.33 L103.16,18.57 L103.98,18.80 L104.79,19.05 L105.61,19.29 L106.43,19.54 L107.24,19.79 L108.06,20.05 L108.88,20.30 L109.69,20.57 L110.51,20.83 L111.33,21.10 L112.15,21.37 L112.96,21.65 L113.78,21.92 L114.60,22.21 L115.41,22.49 L116.23,22.78 L117.05,23.07 L117.86,23.37 L118.68,23.67 L119.50,23.97 L120.31,24.27 L121.13,24.58 L121.95,24.89 L122.77,25.21 L123.58,25.53 L124.40,25.85 L125.22,26.18 L126.03,26.51 L126.85,26.84 L127.67,27.17 L128.48,27.51 L129.30,27.86 L130.12,28.20 L130.94,28.55 L131.75,28.90 L132.57,29.26 L133.39,29.62 L134.20,29.98 L135.02,30.35 L135.84,30.72 L136.65,31.09 L137.47,31.46 L138.29,31.84 L139.10,32.23 L139.92,32.61 L140.74,33.00 L141.56,33.39 L142.37,33.79 L143.19,34.19 L144.01,34.59 L144.82,35.00 L145.64,35.41 L146.46,35.82 L147.27,36.24 L148.09,36.66 L148.91,37.08 L149.72,37.51 L150.54,37.94 L151.36,38.37 L152.18,38.81 L152.99,39.25 L153.81,39.69 L154.63,40.14 L155.44,40.59 L156.26,41.04 L157.08,41.50 L157.89,41.96 L158.71,42.42 L159.53,42.89 L160.35,43.36 L161.16,43.83 L161.98,44.31 L162.80,44.79 L163.61,45.27 L164.43,45.76 L165.25,46.25 L166.06,46.74 L166.88,47.24 L167.70,47.74 L168.51,48.24 L169.33,48.75 L170.15,49.26 L170.97,49.78 L171.78,50.29 L172.60,50.81 L173.42,51.34 L174.23,51.87 L175.05,52.40 L175.87,52.93 L176.68,53.47 L177.50,54.01 L178.32,54.55 L179.14,55.10 L179.95,55.65 L180.77,56.20 L181.59,56.76 L182.40,57.32 L183.22,57.89 L184.04,58.46 L184.85,59.03 L185.67,59.60 L186.49,60.18 L187.30,60.76 L188.12,61.34 L188.94,61.93 L189.76,62.52 L190.57,63.12 L191.39,63.72 L192.21,64.32 L193.02,64.92 L193.84,65.53 L194.66,66.14 L195.47,66.76 L196.29,67.37 L197.11,68.00 L197.93,68.62 L198.74,69.25 L199.56,69.88 L200.38,70.52 L201.19,71.15 L202.01,71.80 L202.83,72.44 L203.64,73.09 L204.46,73.74 L205.28,74.40 L206.09,75.05 L206.91,75.72 L207.73,76.38 L208.55,77.05 L209.36,77.72 L210.18,78.40 L211.00,79.08 L211.81,79.76 L212.63,80.44 L213.45,81.13 L214.26,81.82 L215.08,82.52 L215.90,83.22 L216.72,83.92 L217.53,84.63 L218.35,85.33 L219.17,86.05 L219.98,86.76 L220.80,87.48 L221.62,88.20 L222.43,88.93 L223.25,89.66 L224.07,90.39 L224.88,91.13 L225.70,91.87 L226.52,92.61 L227.34,93.35 L228.15,94.10 L228.97,94.86 L229.79,95.61 L230.60,96.37 L231.42,97.13 L232.24,97.90 L233.05,98.67 L233.87,99.44 L234.69,100.22 L235.51,101.00 L236.32,101.78 L237.14,102.57 L237.96,103.36 L238.77,104.15 L239.59,104.95 L240.41,105.75 L241.22,106.55 L242.04,107.35 L242.86,108.16 L243.67,108.98 L244.49,109.79 L245.31,110.61 L246.13,111.44 L246.94,112.26 L247.76,113.09 L248.58,113.93 L249.39,114.76 L250.21,115.60 L251.03,116.45 L251.84,117.29 L252.66,118.14 L253.48,119.00 L254.29,119.85 L255.11,120.71 L255.93,121.58 L256.75,122.44 L257.56,123.32 L258.38,124.19 L259.20,125.07 L260.01,125.95 L260.83,126.83 L261.65,127.72 L262.46,128.61 L263.28,129.50 L264.10,130.40 L264.92,131.30 L265.73,132.20 L266.55,133.11 L267.37,134.02 L268.18,134.93 L269.00,135.85 L269.82,136.77 L270.63,137.70 L271.45,138.62 L272.27,139.56 L273.08,140.49 L273.90,141.43 L274.72,142.37 L275.54,143.31 L276.35,144.26 L277.17,145.21 L277.99,146.17 L278.80,147.12 L279.62,148.08 L280.44,149.05 L281.25,150.02 L282.07,150.99 L282.89,151.96 L283.71,152.94 L284.52,153.92 L285.34,154.91 L286.16,155.89 L286.97,156.88 L287.79,157.88 L288.61,158.88 L289.42,159.88 L290.24,160.88 L291.06,161.89 L291.87,162.90 L292.69,163.92 L293.51,164.94 L294.33,165.96 L295.14,166.98 L295.96,168.01 L296.78,169.04 L297.59,170.08 L298.41,171.12 L299.23,172.16 L300.04,173.20 L300.86,174.25 L301.68,175.30 L302.50,176.36 L303.31,177.42 L304.13,178.48 L304.95,179.54 L305.76,180.61 L306.58,181.69 L307.40,182.76 L308.21,183.84 L309.03,184.92 L309.85,186.01 L310.66,187.10 L311.48,188.19 L312.30,189.28 L313.12,190.38 L313.93,191.48 L314.75,192.59 L315.57,193.70 L316.38,194.81 L317.20,195.93 L318.02,197.04 L318.83,198.17 L319.65,199.29 L320.47,200.42 L321.29,201.55 L322.10,202.69 L322.92,203.83 L323.74,204.97 L324.55,206.11 L325.37,207.26 L326.19,208.41 L327.00,209.57 L327.82,210.72 L328.64,211.88 L329.45,213.05 L330.27,214.21 L331.09,215.38 L331.91,216.55 L332.72,217.73 L333.54,218.90 L334.36,220.08 L335.17,221.27 L335.99,222.45 L336.81,223.64 L337.62,224.82 L338.44,226.01 L339.26,227.20 L340.08,228.39 L340.89,229.58 L341.71,230.78 L342.53,231.97 L343.34,233.16 L344.16,234.34 L344.98,235.53 L345.79,236.71 L346.61,237.89 L347.43,239.06 L348.24,240.22 L349.06,241.38 L349.88,242.52 L350.70,243.65 L351.51,244.77 L352.33,245.86 L353.15,246.93 L353.96,247.98 L354.78,249.00 L355.60,249.98 L356.41,250.92 L357.23,251.81 L358.05,252.64 L358.86,253.41 L359.68,254.10 L360.50,254.69 L361.32,255.21 L362.13,255.66 L362.95,256.05 L363.77,256.38 L364.58,256.68 L365.40,256.93 L366.22,257.14 L367.03,257.33 L367.85,257.50 L368.67,257.64 L369.49,257.76 L370.30,257.87 L371.12,257.96 L371.94,258.04 L372.75,258.11 L373.57,258.17 L374.39,258.22 L375.20,258.26 L376.02,258.30 L376.84,258.33 L377.65,258.36 L378.47,258.39 L379.29,258.41 L380.11,258.43 L380.92,258.45 L381.74,258.46 L382.56,258.47 L383.37,258.48 L384.19,258.49 L385.01,258.50 L385.82,258.51 L386.64,258.51 L387.46,258.52 L388.28,258.52 L389.09,258.53 L389.91,258.53 L390.73,258.53 L391.54,258.53 L392.36,258.54 L393.18,258.54 L393.99,258.54 L394.81,258.54 L395.63,258.54 L396.44,258.54 L397.26,258.54 L398.08,258.54 L398.90,258.55 L399.71,258.55 L400.53,258.55 L401.35,258.55 L402.16,258.55 L402.98,258.55 L403.80,258.55 L404.61,258.55 L405.43,258.55 L406.25,258.55 L407.07,258.55 L407.88,258.55 L408.70,258.55 L409.52,258.55 L410.33,258.55 L411.15,258.55 L411.97,258.55 L412.78,258.55 L413.60,258.55 L414.42,258.55 L415.23,258.55 L416.05,258.55 L416.87,258.55 L417.69,258.55 L418.50,258.55 L419.32,258.55 L420.14,258.55 L420.95,258.55 L421.77,258.55 L422.59,258.55 L423.40,258.55 L424.22,258.55 L425.04,258.55 L425.86,258.55 L426.67,258.55 L427.49,258.55 L428.31,258.55 L429.12,258.55 L429.94,258.55 L430.76,258.55 L431.57,258.55 L432.39,258.55 L433.21,258.55 L434.02,258.55 L434.84,258.55 L435.66,258.55 L436.48,258.55 L437.29,258.55 L438.11,258.55 L438.93,258.55 L439.74,258.55 L440.56,258.55 L441.38,258.55 L442.19,258.55 L443.01,258.55 L443.83,258.55 L444.65,258.55 L445.46,258.55 L446.28,258.55 L447.10,258.55 L447.91,258.55 L448.73,258.55 L449.55,258.55 L450.36,258.55 L451.18,258.55 L452.00,258.55 L452.81,258.55 L453.63,258.55" stroke="#20e030" stroke-width="2.1" fill="none" stroke-linejoin="miter" stroke-linecap="butt"/><path d="M45.97,10.25 L46.79,10.25 L47.61,10.26 L48.42,10.27 L49.24,10.28 L50.06,10.30 L50.87,10.32 L51.69,10.34 L52.51,10.37 L53.32,10.40 L54.14,10.43 L54.96,10.47 L55.78,10.51 L56.59,10.55 L57.41,10.60 L58.23,10.65 L59.04,10.70 L59.86,10.76 L60.68,10.82 L61.49,10.88 L62.31,10.95 L63.13,11.02 L63.94,11.09 L64.76,11.17 L65.58,11.25 L66.40,11.33 L67.21,11.42 L68.03,11.51 L68.85,11.60 L69.66,11.70 L70.48,11.80 L71.30,11.90 L72.11,12.01 L72.93,12.12 L73.75,12.23 L74.57,12.35 L75.38,12.47 L76.20,12.59 L77.02,12.72 L77.83,12.85 L78.65,12.98 L79.47,13.12 L80.28,13.26 L81.10,13.41 L81.92,13.55 L82.73,13.70 L83.55,13.86 L84.37,14.02 L85.19,14.18 L86.00,14.34 L86.82,14.51 L87.64,14.68 L88.45,14.85 L89.27,15.03 L90.09,15.21 L90.90,15.40 L91.72,15.59 L92.54,15.78 L93.36,15.97 L94.17,16.17 L94.99,16.37 L95.81,16.57 L96.62,16.78 L97.44,16.99 L98.26,17.21 L99.07,17.43 L99.89,17.65 L100.71,17.87 L101.52,18.10 L102.34,18.33 L103.16,18.57 L103.98,18.80 L104.79,19.05 L105.61,19.29 L106.43,19.54 L107.24,19.79 L108.06,20.05 L108.88,20.30 L109.69,20.57 L110.51,20.83 L111.33,21.10 L112.15,21.37 L112.96,21.65 L113.78,21.92 L114.60,22.21 L115.41,22.49 L116.23,22.78 L117.05,23.07 L117.86,23.37 L118.68,23.67 L119.50,23.97 L120.31,24.27 L121.13,24.58 L121.95,24.89 L122.77,25.21 L123.58,25.53 L124.40,25.85 L125.22,26.18 L126.03,26.51 L126.85,26.84 L127.67,27.17 L128.48,27.51 L129.30,27.86 L130.12,28.20 L130.94,28.55 L131.75,28.90 L132.57,29.26 L133.39,29.62 L134.20,29.98 L135.02,30.35 L135.84,30.72 L136.65,31.09 L137.47,31.46 L138.29,31.84 L139.10,32.23 L139.92,32.61 L140.74,33.00 L141.56,33.39 L142.37,33.79 L143.19,34.19 L144.01,34.59 L144.82,35.00 L145.64,35.41 L146.46,35.82 L147.27,36.24 L148.09,36.66 L148.91,37.08 L149.72,37.51 L150.54,37.94 L151.36,38.37 L152.18,38.81 L152.99,39.25 L153.81,39.69 L154.63,40.14 L155.44,40.59 L156.26,41.04 L157.08,41.50 L157.89,41.96 L158.71,42.42 L159.53,42.89 L160.35,43.36 L161.16,43.83 L161.98,44.31 L162.80,44.79 L163.61,45.27 L164.43,45.76 L165.25,46.25 L166.06,46.74 L166.88,47.24 L167.70,47.74 L168.51,48.24 L169.33,48.75 L170.15,49.26 L170.97,49.78 L171.78,50.29 L172.60,50.81 L173.42,51.34 L174.23,51.87 L175.05,52.40 L175.87,52.93 L176.68,53.47 L177.50,54.01 L178.32,54.55 L179.14,55.10 L179.95,55.65 L180.77,56.20 L181.59,56.76 L182.40,57.32 L183.22,57.89 L184.04,58.46 L184.85,59.03 L185.67,59.60 L186.49,60.18 L187.30,60.76 L188.12,61.34 L188.94,61.93 L189.76,62.52 L190.57,63.12 L191.39,63.72 L192.21,64.32 L193.02,64.92 L193.84,65.53 L194.66,66.14 L195.47,66.76 L196.29,67.37 L197.11,68.00 L197.93,68.62 L198.74,69.25 L199.56,69.88 L200.38,70.52 L201.19,71.15 L202.01,71.80 L202.83,72.44 L203.64,73.09 L204.46,73.74 L205.28,74.40 L206.09,75.05 L206.91,75.72 L207.73,76.38 L208.55,77.05 L209.36,77.72 L210.18,78.40 L211.00,79.08 L211.81,79.76 L212.63,80.44 L213.45,81.13 L214.26,81.82 L215.08,82.52 L215.90,83.22 L216.72,83.92 L217.53,84.63 L218.35,85.33 L219.17,86.05 L219.98,86.76 L220.80,87.48 L221.62,88.20 L222.43,88.93 L223.25,89.66 L224.07,90.39 L224.88,91.13 L225.70,91.87 L226.52,92.61 L227.34,93.35 L228.15,94.10 L228.97,94.86 L229.79,95.61 L230.60,96.37 L231.42,97.13 L232.24,97.90 L233.05,98.67 L233.87,99.44 L234.69,100.22 L235.51,101.00 L236.32,101.78 L237.14,102.57 L237.96,103.36 L238.77,104.15 L239.59,104.95 L240.41,105.75 L241.22,106.55 L242.04,107.35 L242.86,108.16 L243.67,108.98 L244.49,109.79 L245.31,110.61 L246.13,111.44 L246.94,112.26 L247.76,113.09 L248.58,113.93 L249.39,114.76 L250.21,115.60 L251.03,116.45 L251.84,117.29 L252.66,118.14 L253.48,119.00 L254.29,119.85 L255.11,120.71 L255.93,121.58 L256.75,122.44 L257.56,123.32 L258.38,124.19 L259.20,125.07 L260.01,125.95 L260.83,126.83 L261.65,127.72 L262.46,128.61 L263.28,129.50 L264.10,130.40 L264.92,131.30 L265.73,132.20 L266.55,133.11 L267.37,134.02 L268.18,134.93 L269.00,135.85 L269.82,136.77 L270.63,137.70 L271.45,138.62 L272.27,139.55 L273.08,140.49 L273.90,141.43 L274.72,142.37 L275.54,143.31 L276.35,144.26 L277.17,145.21 L277.99,146.16 L278.80,147.12 L279.62,148.08 L280.44,149.05 L281.25,150.02 L282.07,150.99 L282.89,151.96 L283.71,152.94 L284.52,153.92 L285.34,154.90 L286.16,155.89 L286.97,156.88 L287.79,157.88 L288.61,158.88 L289.42,159.88 L290.24,160.88 L291.06,161.89 L291.87,162.90 L292.69,163.91 L293.51,164.93 L294.33,165.95 L295.14,166.98 L295.96,168.01 L296.78,169.04 L297.59,170.07 L298.41,171.11 L299.23,172.15 L300.04,173.20 L300.86,174.24 L301.68,175.29 L302.50,176.35 L303.31,177.41 L304.13,178.47 L304.95,179.53 L305.76,180.60 L306.58,181.67 L307.40,182.74 L308.21,183.82 L309.03,184.90 L309.85,185.98 L310.66,187.07 L311.48,188.16 L312.30,189.25 L313.12,190.35 L313.93,191.45 L314.75,192.55 L315.57,193.65 L316.38,194.76 L317.20,195.87 L318.02,196.98 L318.83,198.10 L319.65,199.22 L320.47,200.34 L321.29,201.47 L322.10,202.59 L322.92,203.72 L323.74,204.85 L324.55,205.99 L325.37,207.12 L326.19,208.26 L327.00,209.40 L327.82,210.55 L328.64,211.69 L329.45,212.84 L330.27,213.98 L331.09,215.13 L331.91,216.28 L332.72,217.43 L333.54,218.58 L334.36,219.73 L335.17,220.88 L335.99,222.03 L336.81,223.18 L337.62,224.33 L338.44,225.48 L339.26,226.62 L340.08,227.77 L340.89,228.91 L341.71,230.04 L342.53,231.17 L343.34,232.30 L344.16,233.42 L344.98,234.53 L345.79,235.63 L346.61,236.73 L347.43,237.82 L348.24,238.89 L349.06,239.95 L349.88,241.00 L350.70,242.02 L351.51,243.04 L352.33,244.03 L353.15,244.99 L353.96,245.94 L354.78,246.85 L355.60,247.74 L356.41,248.59 L357.23,249.40 L358.05,250.17 L358.86,250.89 L359.68,251.56 L360.50,252.18 L361.32,252.74 L362.13,253.25 L362.95,253.72 L363.77,254.14 L364.58,254.53 L365.40,254.89 L366.22,255.21 L367.03,255.50 L367.85,255.77 L368.67,256.02 L369.49,256.24 L370.30,256.44 L371.12,256.63 L371.94,256.80 L372.75,256.95 L373.57,257.09 L374.39,257.22 L375.20,257.34 L376.02,257.45 L376.84,257.54 L377.65,257.63 L378.47,257.71 L379.29,257.79 L380.11,257.85 L380.92,257.92 L381.74,257.97 L382.56,258.02 L383.37,258.07 L384.19,258.11 L385.01,258.15 L385.82,258.18 L386.64,258.22 L387.46,258.25 L388.28,258.27 L389.09,258.30 L389.91,258.32 L390.73,258.34 L391.54,258.36 L392.36,258.38 L393.18,258.39 L393.99,258.40 L394.81,258.42 L395.63,258.43 L396.44,258.44 L397.26,258.45 L398.08,258.46 L398.90,258.47 L399.71,258.47 L400.53,258.48 L401.35,258.49 L402.16,258.49 L402.98,258.50 L403.80,258.50 L404.61,258.51 L405.43,258.51 L406.25,258.51 L407.07,258.52 L407.88,258.52 L408.70,258.52 L409.52,258.52 L410.33,258.53 L411.15,258.53 L411.97,258.53 L412.78,258.53 L413.60,258.53 L414.42,258.54 L415.23,258.54 L416.05,258.54 L416.87,258.54 L417.69,258.54 L418.50,258.54 L419.32,258.54 L420.14,258.54 L420.95,258.54 L421.77,258.54 L422.59,258.54 L423.40,258.54 L424.22,258.55 L425.04,258.55 L425.86,258.55 L426.67,258.55 L427.49,258.55 L428.31,258.55 L429.12,258.55 L429.94,258.55 L430.76,258.55 L431.57,258.55 L432.39,258.55 L433.21,258.55 L434.02,258.55 L434.84,258.55 L435.66,258.55 L436.48,258.55 L437.29,258.55 L438.11,258.55 L438.93,258.55 L439.74,258.55 L440.56,258.55 L441.38,258.55 L442.19,258.55 L443.01,258.55 L443.83,258.55 L444.65,258.55 L445.46,258.55 L446.28,258.55 L447.10,258.55 L447.91,258.55 L448.73,258.55 L449.55,258.55 L450.36,258.55 L451.18,258.55 L452.00,258.55 L452.81,258.55 L453.63,258.55" stroke="#ff00ff" stroke-width="2.1" fill="none" stroke-linejoin="miter" stroke-linecap="butt"/><path d="M45.97,10.25 L46.79,10.25 L47.61,10.26 L48.42,10.27 L49.24,10.28 L50.06,10.30 L50.87,10.32 L51.69,10.34 L52.51,10.37 L53.32,10.40 L54.14,10.43 L54.96,10.47 L55.78,10.51 L56.59,10.55 L57.41,10.60 L58.23,10.65 L59.04,10.70 L59.86,10.76 L60.68,10.82 L61.49,10.88 L62.31,10.95 L63.13,11.02 L63.94,11.09 L64.76,11.17 L65.58,11.25 L66.40,11.33 L67.21,11.42 L68.03,11.51 L68.85,11.60 L69.66,11.70 L70.48,11.80 L71.30,11.90 L72.11,12.01 L72.93,12.12 L73.75,12.23 L74.57,12.35 L75.38,12.47 L76.20,12.59 L77.02,12.72 L77.83,12.85 L78.65,12.98 L79.47,13.12 L80.28,13.26 L81.10,13.41 L81.92,13.55 L82.73,13.70 L83.55,13.86 L84.37,14.02 L85.19,14.18 L86.00,14.34 L86.82,14.51 L87.64,14.68 L88.45,14.85 L89.27,15.03 L90.09,15.21 L90.90,15.40 L91.72,15.59 L92.54,15.78 L93.36,15.97 L94.17,16.17 L94.99,16.37 L95.81,16.57 L96.62,16.78 L97.44,16.99 L98.26,17.21 L99.07,17.43 L99.89,17.65 L100.71,17.87 L101.52,18.10 L102.34,18.33 L103.16,18.57 L103.98,18.80 L104.79,19.05 L105.61,19.29 L106.43,19.54 L107.24,19.79 L108.06,20.05 L108.88,20.30 L109.69,20.57 L110.51,20.83 L111.33,21.10 L112.15,21.37 L112.96,21.65 L113.78,21.92 L114.60,22.21 L115.41,22.49 L116.23,22.78 L117.05,23.07 L117.86,23.37 L118.68,23.67 L119.50,23.97 L120.31,24.27 L121.13,24.58 L121.95,24.89 L122.77,25.21 L123.58,25.53 L124.40,25.85 L125.22,26.18 L126.03,26.51 L126.85,26.84 L127.67,27.17 L128.48,27.51 L129.30,27.86 L130.12,28.20 L130.94,28.55 L131.75,28.90 L132.57,29.26 L133.39,29.62 L134.20,29.98 L135.02,30.35 L135.84,30.72 L136.65,31.09 L137.47,31.46 L138.29,31.84 L139.10,32.23 L139.92,32.61 L140.74,33.00 L141.56,33.39 L142.37,33.79 L143.19,34.19 L144.01,34.59 L144.82,35.00 L145.64,35.41 L146.46,35.82 L147.27,36.24 L148.09,36.66 L148.91,37.08 L149.72,37.51 L150.54,37.94 L151.36,38.37 L152.18,38.81 L152.99,39.25 L153.81,39.69 L154.63,40.14 L155.44,40.59 L156.26,41.04 L157.08,41.50 L157.89,41.96 L158.71,42.42 L159.53,42.89 L160.35,43.36 L161.16,43.83 L161.98,44.31 L162.80,44.79 L163.61,45.27 L164.43,45.76 L165.25,46.25 L166.06,46.74 L166.88,47.24 L167.70,47.74 L168.51,48.24 L169.33,48.75 L170.15,49.26 L170.97,49.78 L171.78,50.29 L172.60,50.81 L173.42,51.34 L174.23,51.87 L175.05,52.40 L175.87,52.93 L176.68,53.47 L177.50,54.01 L178.32,54.55 L179.14,55.10 L179.95,55.65 L180.77,56.20 L181.59,56.76 L182.40,57.32 L183.22,57.89 L184.04,58.46 L184.85,59.03 L185.67,59.60 L186.49,60.18 L187.30,60.76 L188.12,61.34 L188.94,61.93 L189.76,62.52 L190.57,63.12 L191.39,63.72 L192.21,64.32 L193.02,64.92 L193.84,65.53 L194.66,66.14 L195.47,66.76 L196.29,67.37 L197.11,68.00 L197.93,68.62 L198.74,69.25 L199.56,69.88 L200.38,70.51 L201.19,71.15 L202.01,71.79 L202.83,72.44 L203.64,73.09 L204.46,73.74 L205.28,74.40 L206.09,75.05 L206.91,75.72 L207.73,76.38 L208.55,77.05 L209.36,77.72 L210.18,78.40 L211.00,79.07 L211.81,79.76 L212.63,80.44 L213.45,81.13 L214.26,81.82 L215.08,82.52 L215.90,83.22 L216.72,83.92 L217.53,84.62 L218.35,85.33 L219.17,86.05 L219.98,86.76 L220.80,87.48 L221.62,88.20 L222.43,88.93 L223.25,89.66 L224.07,90.39 L224.88,91.13 L225.70,91.86 L226.52,92.61 L227.34,93.35 L228.15,94.10 L228.97,94.85 L229.79,95.61 L230.60,96.37 L231.42,97.13 L232.24,97.90 L233.05,98.67 L233.87,99.44 L234.69,100.22 L235.51,101.00 L236.32,101.78 L237.14,102.56 L237.96,103.35 L238.77,104.15 L239.59,104.94 L240.41,105.74 L241.22,106.55 L242.04,107.35 L242.86,108.16 L243.67,108.97 L244.49,109.79 L245.31,110.61 L246.13,111.43 L246.94,112.26 L247.76,113.09 L248.58,113.92 L249.39,114.76 L250.21,115.60 L251.03,116.44 L251.84,117.29 L252.66,118.14 L253.48,118.99 L254.29,119.85 L255.11,120.71 L255.93,121.57 L256.75,122.44 L257.56,123.31 L258.38,124.18 L259.20,125.06 L260.01,125.94 L260.83,126.82 L261.65,127.71 L262.46,128.60 L263.28,129.49 L264.10,130.39 L264.92,131.29 L265.73,132.19 L266.55,133.10 L267.37,134.01 L268.18,134.92 L269.00,135.83 L269.82,136.75 L270.63,137.68 L271.45,138.60 L272.27,139.53 L273.08,140.47 L273.90,141.40 L274.72,142.34 L275.54,143.28 L276.35,144.23 L277.17,145.18 L277.99,146.13 L278.80,147.09 L279.62,148.05 L280.44,149.01 L281.25,149.97 L282.07,150.94 L282.89,151.91 L283.71,152.89 L284.52,153.87 L285.34,154.85 L286.16,155.83 L286.97,156.82 L287.79,157.81 L288.61,158.81 L289.42,159.80 L290.24,160.80 L291.06,161.81 L291.87,162.81 L292.69,163.82 L293.51,164.84 L294.33,165.85 L295.14,166.87 L295.96,167.89 L296.78,168.92 L297.59,169.94 L298.41,170.97 L299.23,172.01 L300.04,173.04 L300.86,174.08 L301.68,175.12 L302.50,176.17 L303.31,177.21 L304.13,178.26 L304.95,179.32 L305.76,180.37 L306.58,181.43 L307.40,182.49 L308.21,183.55 L309.03,184.62 L309.85,185.68 L310.66,186.75 L311.48,187.82 L312.30,188.90 L313.12,189.97 L313.93,191.05 L314.75,192.13 L315.57,193.21 L316.38,194.30 L317.20,195.38 L318.02,196.47 L318.83,197.56 L319.65,198.65 L320.47,199.74 L321.29,200.83 L322.10,201.92 L322.92,203.01 L323.74,204.11 L324.55,205.20 L325.37,206.30 L326.19,207.39 L327.00,208.48 L327.82,209.58 L328.64,210.67 L329.45,211.76 L330.27,212.86 L331.09,213.95 L331.91,215.04 L332.72,216.12 L333.54,217.21 L334.36,218.29 L335.17,219.37 L335.99,220.45 L336.81,221.52 L337.62,222.59 L338.44,223.65 L339.26,224.71 L340.08,225.76 L340.89,226.81 L341.71,227.85 L342.53,228.89 L343.34,229.91 L344.16,230.93 L344.98,231.94 L345.79,232.94 L346.61,233.93 L347.43,234.91 L348.24,235.87 L349.06,236.82 L349.88,237.76 L350.70,238.68 L351.51,239.59 L352.33,240.48 L353.15,241.35 L353.96,242.19 L354.78,243.02 L355.60,243.83 L356.41,244.60 L357.23,245.36 L358.05,246.08 L358.86,246.78 L359.68,247.44 L360.50,248.07 L361.32,248.66 L362.13,249.21 L362.95,249.74 L363.77,250.24 L364.58,250.71 L365.40,251.15 L366.22,251.56 L367.03,251.96 L367.85,252.33 L368.67,252.68 L369.49,253.01 L370.30,253.32 L371.12,253.62 L371.94,253.90 L372.75,254.16 L373.57,254.40 L374.39,254.64 L375.20,254.86 L376.02,255.07 L376.84,255.26 L377.65,255.45 L378.47,255.62 L379.29,255.79 L380.11,255.94 L380.92,256.09 L381.74,256.23 L382.56,256.36 L383.37,256.48 L384.19,256.60 L385.01,256.71 L385.82,256.81 L386.64,256.91 L387.46,257.00 L388.28,257.09 L389.09,257.17 L389.91,257.25 L390.73,257.32 L391.54,257.39 L392.36,257.46 L393.18,257.52 L393.99,257.58 L394.81,257.63 L395.63,257.68 L396.44,257.73 L397.26,257.78 L398.08,257.82 L398.90,257.86 L399.71,257.90 L400.53,257.94 L401.35,257.97 L402.16,258.01 L402.98,258.04 L403.80,258.07 L404.61,258.09 L405.43,258.12 L406.25,258.14 L407.07,258.17 L407.88,258.19 L408.70,258.21 L409.52,258.23 L410.33,258.25 L411.15,258.26 L411.97,258.28 L412.78,258.29 L413.60,258.31 L414.42,258.32 L415.23,258.33 L416.05,258.35 L416.87,258.36 L417.69,258.37 L418.50,258.38 L419.32,258.39 L420.14,258.40 L420.95,258.41 L421.77,258.41 L422.59,258.42 L423.40,258.43 L424.22,258.44 L425.04,258.44 L425.86,258.45 L426.67,258.45 L427.49,258.46 L428.31,258.46 L429.12,258.47 L429.94,258.47 L430.76,258.48 L431.57,258.48 L432.39,258.49 L433.21,258.49 L434.02,258.49 L434.84,258.50 L435.66,258.50 L436.48,258.50 L437.29,258.51 L438.11,258.51 L438.93,258.51 L439.74,258.51 L440.56,258.51 L441.38,258.52 L442.19,258.52 L443.01,258.52 L443.83,258.52 L444.65,258.52 L445.46,258.52 L446.28,258.53 L447.10,258.53 L447.91,258.53 L448.73,258.53 L449.55,258.53 L450.36,258.53 L451.18,258.53 L452.00,258.53 L452.81,258.54 L453.63,258.54" stroke="#556b2f" stroke-width="2.1" fill="none" stroke-linejoin="miter" stroke-linecap="butt"/><path d="M45.97,10.25 L47.02,10.25 L48.07,10.26 L49.12,10.28 L50.17,10.30 L51.22,10.33 L52.27,10.36 L53.32,10.40 L54.36,10.44 L55.41,10.49 L56.46,10.54 L57.51,10.60 L58.56,10.67 L59.61,10.74 L60.66,10.81 L61.71,10.90 L62.76,10.98 L63.81,11.08 L64.86,11.17 L65.91,11.28 L66.95,11.39 L68.00,11.50 L69.05,11.62 L70.10,11.75 L71.15,11.88 L72.20,12.02 L73.25,12.16 L74.30,12.31 L75.35,12.46 L76.40,12.62 L77.45,12.79 L78.50,12.96 L79.54,13.14 L80.59,13.32 L81.64,13.50 L82.69,13.70 L83.74,13.90 L84.79,14.10 L85.84,14.31 L86.89,14.52 L87.94,14.74 L88.99,14.97 L90.04,15.20 L91.08,15.44 L92.13,15.68 L93.18,15.93 L94.23,16.18 L95.28,16.44 L96.33,16.71 L97.38,16.98 L98.43,17.25 L99.48,17.53 L100.53,17.82 L101.58,18.11 L102.63,18.41 L103.67,18.72 L104.72,19.03 L105.77,19.34 L106.82,19.66 L107.87,19.99 L108.92,20.32 L109.97,20.65 L111.02,21.00 L112.07,21.35 L113.12,21.70 L114.17,22.06 L115.21,22.42 L116.26,22.79 L117.31,23.17 L118.36,23.55 L119.41,23.94 L120.46,24.33 L121.51,24.73 L122.56,25.13 L123.61,25.54 L124.66,25.95 L125.71,26.37 L126.76,26.80 L127.80,27.23 L128.85,27.67 L129.90,28.11 L130.95,28.56 L132.00,29.01 L133.05,29.47 L134.10,29.93 L135.15,30.40 L136.20,30.88 L137.25,31.36 L138.30,31.85 L139.34,32.34 L140.39,32.84 L141.44,33.34 L142.49,33.85 L143.54,34.36 L144.59,34.88 L145.64,35.41 L146.69,35.94 L147.74,36.48 L148.79,37.02 L149.84,37.57 L150.89,38.12 L151.93,38.68 L152.98,39.24 L154.03,39.81 L155.08,40.39 L156.13,40.97 L157.18,41.56 L158.23,42.15 L159.28,42.74 L160.33,43.35 L161.38,43.96 L162.43,44.57 L163.47,45.19 L164.52,45.82 L165.57,46.45 L166.62,47.08 L167.67,47.72 L168.72,48.37 L169.77,49.02 L170.82,49.68 L171.87,50.35 L172.92,51.02 L173.97,51.69 L175.02,52.37 L176.06,53.06 L177.11,53.75 L178.16,54.45 L179.21,55.15 L180.26,55.86 L181.31,56.57 L182.36,57.29 L183.41,58.02 L184.46,58.75 L185.51,59.49 L186.56,60.23 L187.61,60.97 L188.65,61.73 L189.70,62.49 L190.75,63.25 L191.80,64.02 L192.85,64.79 L193.90,65.57 L194.95,66.36 L196.00,67.15 L197.05,67.95 L198.10,68.75 L199.15,69.56 L200.19,70.37 L201.24,71.19 L202.29,72.02 L203.34,72.85 L204.39,73.68 L205.44,74.53 L206.49,75.37 L207.54,76.23 L208.59,77.08 L209.64,77.95 L210.69,78.82 L211.74,79.69 L212.78,80.57 L213.83,81.46 L214.88,82.35 L215.93,83.25 L216.98,84.15 L218.03,85.06 L219.08,85.97 L220.13,86.89 L221.18,87.81 L222.23,88.74 L223.28,89.68 L224.32,90.62 L225.37,91.57 L226.42,92.52 L227.47,93.48 L228.52,94.44 L229.57,95.41 L230.62,96.39 L231.67,97.37 L232.72,98.35 L233.77,99.34 L234.82,100.34 L235.87,101.34 L236.91,102.35 L237.96,103.36 L239.01,104.38 L240.06,105.41 L241.11,106.44 L242.16,107.47 L243.21,108.51 L244.26,109.56 L245.31,110.61 L246.36,111.67 L247.41,112.73 L248.45,113.80 L249.50,114.88 L250.55,115.96 L251.60,117.04 L252.65,118.13 L253.70,119.23 L254.75,120.33 L255.80,121.44 L256.85,122.55 L257.90,123.67 L258.95,124.80 L260.00,125.93 L261.04,127.06 L262.09,128.20 L263.14,129.35 L264.19,130.50 L265.24,131.66 L266.29,132.82 L267.34,133.99 L268.39,135.17 L269.44,136.34 L270.49,137.53 L271.54,138.72 L272.58,139.92 L273.63,141.12 L274.68,142.33 L275.73,143.54 L276.78,144.76 L277.83,145.98 L278.88,147.21 L279.93,148.45 L280.98,149.69 L282.03,150.93 L283.08,152.19 L284.13,153.44 L285.17,154.71 L286.22,155.98 L287.27,157.25 L288.32,158.53 L289.37,159.81 L290.42,161.10 L291.47,162.40 L292.52,163.70 L293.57,165.01 L294.62,166.32 L295.67,167.64 L296.72,168.97 L297.76,170.29 L298.81,171.63 L299.86,172.97 L300.91,174.32 L301.96,175.67 L303.01,177.03 L304.06,178.39 L305.11,179.76 L306.16,181.13 L307.21,182.51 L308.26,183.89 L309.30,185.29 L310.35,186.68 L311.40,188.08 L312.45,189.49 L313.50,190.90 L314.55,192.32 L315.60,193.74 L316.65,195.17 L317.70,196.61 L318.75,198.05 L319.80,199.50 L320.85,200.95 L321.89,202.40 L322.94,203.87 L323.99,205.33 L325.04,206.81 L326.09,208.29 L327.14,209.77 L328.19,211.26 L329.24,212.76 L330.29,214.26 L331.34,215.77 L332.39,217.28 L333.43,218.80 L334.48,220.32 L335.53,221.85 L336.58,223.38 L337.63,224.92 L338.68,226.47 L339.73,228.02 L340.78,229.58 L341.83,231.14 L342.88,232.71 L343.93,234.28 L344.98,235.86 L346.02,237.45 L347.07,239.04 L348.12,240.63 L349.17,242.23 L350.22,243.84 L351.27,245.45 L352.32,247.07 L353.37,248.69 L354.42,250.32 L355.47,251.96 L356.52,253.60 L357.56,255.24 L358.61,256.89 L359.66,258.55 L453.63,258.55" stroke="#000000" stroke-width="2.75" fill="none" stroke-linejoin="miter" stroke-linecap="butt"/><path d="M43.35,7.85 H455.95" stroke="#000" stroke-width="1.45" fill="none" stroke-linecap="round"/><path d="M43.35,7.85 V261" stroke="#000" stroke-width="1.45" fill="none" stroke-linecap="round"/><path d="M43.35,261 H455.95" stroke="#000" stroke-width="1.45" fill="none" stroke-linecap="round"/><path d="M455.95,7.85 V261" stroke="#000" stroke-width="1.6" fill="none" stroke-linecap="round"/></svg>
<div style="position:absolute;top:1.8px;font-size:19.5px;line-height:1;white-space:nowrap;right:429.1px;">1</div><div style="position:absolute;top:51.4px;font-size:19.5px;line-height:1;white-space:nowrap;letter-spacing:-0.3px;right:429.1px;">0.8</div><div style="position:absolute;top:101.1px;font-size:19.5px;line-height:1;white-space:nowrap;letter-spacing:-0.3px;right:429.1px;">0.6</div><div style="position:absolute;top:150.7px;font-size:19.5px;line-height:1;white-space:nowrap;letter-spacing:-0.3px;right:429.1px;">0.4</div><div style="position:absolute;top:200.4px;font-size:19.5px;line-height:1;white-space:nowrap;letter-spacing:-0.3px;right:429.1px;">0.2</div><div style="position:absolute;top:250.1px;font-size:19.5px;line-height:1;white-space:nowrap;right:428.4px;">0</div><div style="position:absolute;top:265.2px;font-size:19.5px;line-height:1;white-space:nowrap;left:46.800000000000004px;transform:translateX(-50%);">0</div><div style="position:absolute;top:265.2px;font-size:19.5px;line-height:1;white-space:nowrap;letter-spacing:-0.3px;left:180.84999999999997px;transform:translateX(-50%);">0.5</div><div style="position:absolute;top:265.2px;font-size:19.5px;line-height:1;white-space:nowrap;left:316.79999999999995px;transform:translateX(-50%);">1</div><div style="position:absolute;top:265.2px;font-size:19.5px;line-height:1;white-space:nowrap;letter-spacing:-0.3px;left:452.74999999999994px;transform:translateX(-50%);">1.5</div><div style="position:absolute;top:122.3px;font-size:28.5px;line-height:1;white-space:nowrap;font-style:italic;left:0.8px;transform:scaleX(1.09);transform-origin:0 0;">a</div><div style="position:absolute;top:276.3px;font-size:21.2px;line-height:1;white-space:nowrap;font-style:italic;left:243.8px;transform:scaleX(1.15);transform-origin:0 0;">r</div>
</body></html>
